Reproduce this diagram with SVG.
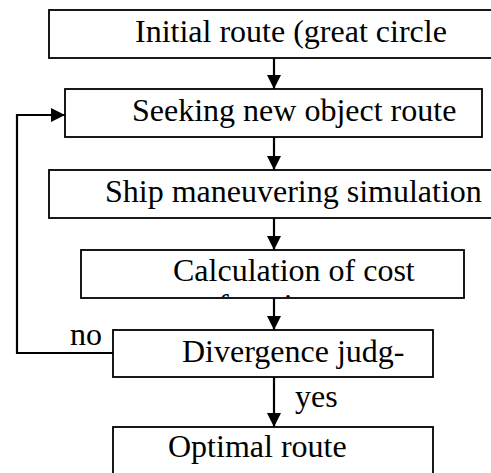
<svg xmlns="http://www.w3.org/2000/svg" width="491" height="473" viewBox="0 0 491 473">
<style>
.box{fill:#fff;stroke:#000;stroke-width:1.8}
.lbl{font-family:'Liberation Serif','Times New Roman',serif;font-size:32px;fill:#000}
.c{fill:none;stroke:#000;stroke-width:2.2}
</style>
<defs>
<marker id="ah" markerWidth="14" markerHeight="14" viewBox="0 0 14 14" refX="14" refY="7" orient="auto" markerUnits="userSpaceOnUse">
<path d="M0,0 L14,7 L0,14 Z" fill="#000"/>
</marker>
<clipPath id="c1"><rect x="49" y="10" width="442" height="45"/></clipPath>
<clipPath id="c4"><rect x="81" y="250" width="383" height="47"/></clipPath>
</defs>
<g id="connectors">
<line class="c" x1="274" y1="58" x2="274" y2="89" marker-end="url(#ah)"/>
<line class="c" x1="274" y1="137" x2="274" y2="170" marker-end="url(#ah)"/>
<line class="c" x1="274" y1="218" x2="274" y2="250" marker-end="url(#ah)"/>
<line class="c" x1="274" y1="298" x2="274" y2="330" marker-end="url(#ah)"/>
<line class="c" x1="274" y1="377" x2="274" y2="427" marker-end="url(#ah)"/>
<polyline class="c" points="113,353 17,353 17,115 65,115" marker-end="url(#ah)"/>
<text class="lbl" x="70" y="345">no</text>
<text class="lbl" x="295" y="407">yes</text>
</g>
<g id="n1">
<rect class="box" x="49" y="10" width="450" height="48"/>
<text class="lbl" x="135" y="42">Initial route (great circle</text>
<text class="lbl" x="292" y="78" clip-path="url(#c1)">)</text>
</g>
<g id="n2">
<rect class="box" x="65" y="89" width="417" height="48"/>
<text class="lbl" x="132" y="121">Seeking new object route</text>
</g>
<g id="n3">
<rect class="box" x="49" y="170" width="450" height="48"/>
<text class="lbl" x="105" y="202">Ship maneuvering simulation</text>
</g>
<g id="n4">
<rect class="box" x="81" y="250" width="383" height="48"/>
<text class="lbl" x="173" y="281">Calculation of cost</text>
<text class="lbl" x="218" y="316" clip-path="url(#c4)">function</text>
</g>
<g id="n5">
<rect class="box" x="113" y="330" width="320" height="47"/>
<text class="lbl" x="182" y="362">Divergence judg-</text>
</g>
<g id="n6">
<rect class="box" x="113" y="427" width="320" height="60"/>
<text class="lbl" x="168" y="457">Optimal route</text>
</g>
</svg>
